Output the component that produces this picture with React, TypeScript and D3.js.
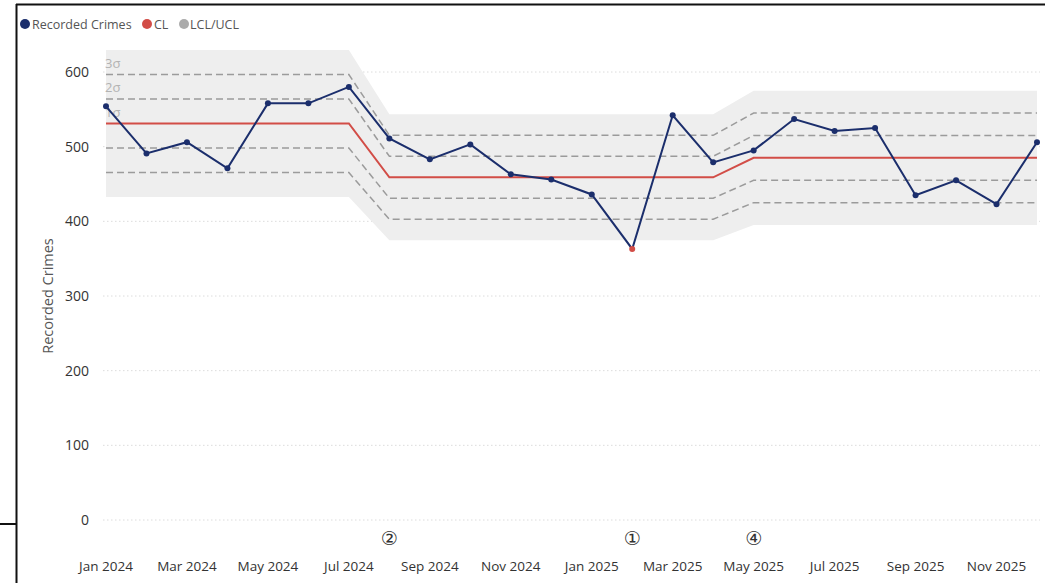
import React from "react";
import * as d3 from "d3";

const months = [
  "Jan 2024", "Feb 2024", "Mar 2024", "Apr 2024", "May 2024", "Jun 2024",
  "Jul 2024", "Aug 2024", "Sep 2024", "Oct 2024", "Nov 2024", "Dec 2024",
  "Jan 2025", "Feb 2025", "Mar 2025", "Apr 2025", "May 2025", "Jun 2025",
  "Jul 2025", "Aug 2025", "Sep 2025", "Oct 2025", "Nov 2025", "Dec 2025",
];
const recordedCrimes = [
  554, 491, 506, 471, 558, 558, 580, 511, 483, 503, 463, 456,
  436, 363, 542, 479, 495, 537, 521, 525, 435, 455, 423, 506,
];
const centerLine = [
  531, 531, 531, 531, 531, 531, 531,
  459, 459, 459, 459, 459, 459, 459, 459, 459,
  485, 485, 485, 485, 485, 485, 485, 485,
];
const sigma = [
  32.8, 32.8, 32.8, 32.8, 32.8, 32.8, 32.8,
  28.1, 28.1, 28.1, 28.1, 28.1, 28.1, 28.1, 28.1, 28.1,
  30, 30, 30, 30, 30, 30, 30, 30,
];
const yTicks = [0, 100, 200, 300, 400, 500, 600];
const annotationIndex = [7, 13, 16];
const annotationLabels = ["②", "①", "④"];
const sigmaLabels = ["3σ", "2σ", "1σ"];

const NAVY = "#1b2e6c";
const RED = "#d24d47";
const FONT = "'Open Sans', 'Noto Sans', sans-serif";

export default function App() {
  const W = 1045;
  const H = 583;
  const x = d3.scaleLinear().domain([0, months.length - 1]).range([106, 1037]);
  const y = d3.scaleLinear().domain([0, 600]).range([520, 72]);
  const idx = months.map((_, i) => i);

  const band = d3
    .area<number>()
    .x((i) => x(i))
    .y0((i) => y(centerLine[i] - 3 * sigma[i]))
    .y1((i) => y(centerLine[i] + 3 * sigma[i]));

  const limitLine = (k: number) =>
    d3
      .line<number>()
      .x((i) => x(i))
      .y((i) => y(centerLine[i] + k * sigma[i]))(idx) || "";

  const dataLine =
    d3
      .line<number>()
      .x((i) => x(i))
      .y((i) => y(recordedCrimes[i]))(idx) || "";

  const outOfControl = (i: number) =>
    recordedCrimes[i] > centerLine[i] + 3 * sigma[i] ||
    recordedCrimes[i] < centerLine[i] - 3 * sigma[i];

  return (
    <svg
      width={W}
      height={H}
      style={{ position: "absolute", left: 0, top: 0, background: "#fff" }}
      fontFamily={FONT}
    >
      {/* frame */}
      <line x1={16} y1={4.5} x2={W} y2={4.5} stroke="#111" strokeWidth={2} />
      <line x1={16.5} y1={4} x2={16.5} y2={H} stroke="#111" strokeWidth={2} />
      <line x1={0} y1={524} x2={16} y2={524} stroke="#111" strokeWidth={2} />

      {/* legend */}
      <g fontSize={12.5} fill="#555">
        <circle cx={25} cy={24} r={5} fill={NAVY} />
        <text x={32} y={28.5}>Recorded Crimes</text>
        <circle cx={147} cy={24} r={5} fill={RED} />
        <text x={154} y={28.5}>CL</text>
        <circle cx={184} cy={24} r={5} fill="#ababab" />
        <text x={190} y={28.5}>LCL/UCL</text>
      </g>

      {/* gridlines + y ticks */}
      {yTicks.map((t) => (
        <g key={t}>
          <line
            x1={103}
            x2={1040}
            y1={y(t)}
            y2={y(t)}
            stroke="#dcdcdc"
            strokeDasharray="1.5,2.5"
          />
          <text
            x={89}
            y={y(t)}
            dy="0.35em"
            textAnchor="end"
            fontSize={14}
            fill="#333"
          >
            {t}
          </text>
        </g>
      ))}

      {/* y title */}
      <text
        transform={`translate(53,${y(300)}) rotate(-90)`}
        textAnchor="middle"
        fontSize={14.5}
        fill="#555"
      >
        Recorded Crimes
      </text>

      {/* control band */}
      <path d={band(idx) || ""} fill="#eeeeee" />

      {/* sigma dashed lines */}
      {[-2, -1, 1, 2].map((k) => (
        <path
          key={k}
          d={limitLine(k)}
          fill="none"
          stroke="#9b9b9b"
          strokeWidth={1.5}
          strokeDasharray="7,4"
        />
      ))}

      {/* sigma zone labels */}
      {sigmaLabels.map((s, j) => (
        <text
          key={s}
          x={105}
          y={y(centerLine[0] + (2 - j) * sigma[0]) - 7}
          fontSize={13}
          fill="#b3b3b3"
        >
          {s}
        </text>
      ))}

      {/* centre line */}
      <path d={limitLine(0)} fill="none" stroke={RED} strokeWidth={2} />

      {/* data line */}
      <path d={dataLine} fill="none" stroke={NAVY} strokeWidth={2} />
      {idx.map((i) => (
        <circle
          key={i}
          cx={x(i)}
          cy={y(recordedCrimes[i])}
          r={3}
          fill={outOfControl(i) ? RED : NAVY}
        />
      ))}

      {/* x labels */}
      {idx
        .filter((i) => i % 2 === 0)
        .map((i) => (
          <text
            key={i}
            x={x(i)}
            y={571}
            textAnchor="middle"
            fontSize={13.5}
            fill="#333"
          >
            {months[i]}
          </text>
        ))}

      {/* rule annotations */}
      {annotationIndex.map((i, j) => (
        <text
          key={i}
          x={x(i)}
          y={538}
          dy="0.35em"
          textAnchor="middle"
          fontSize={19}
          fill="#333"
          fontFamily="'DejaVu Sans', sans-serif"
        >
          {annotationLabels[j]}
        </text>
      ))}
    </svg>
  );
}
